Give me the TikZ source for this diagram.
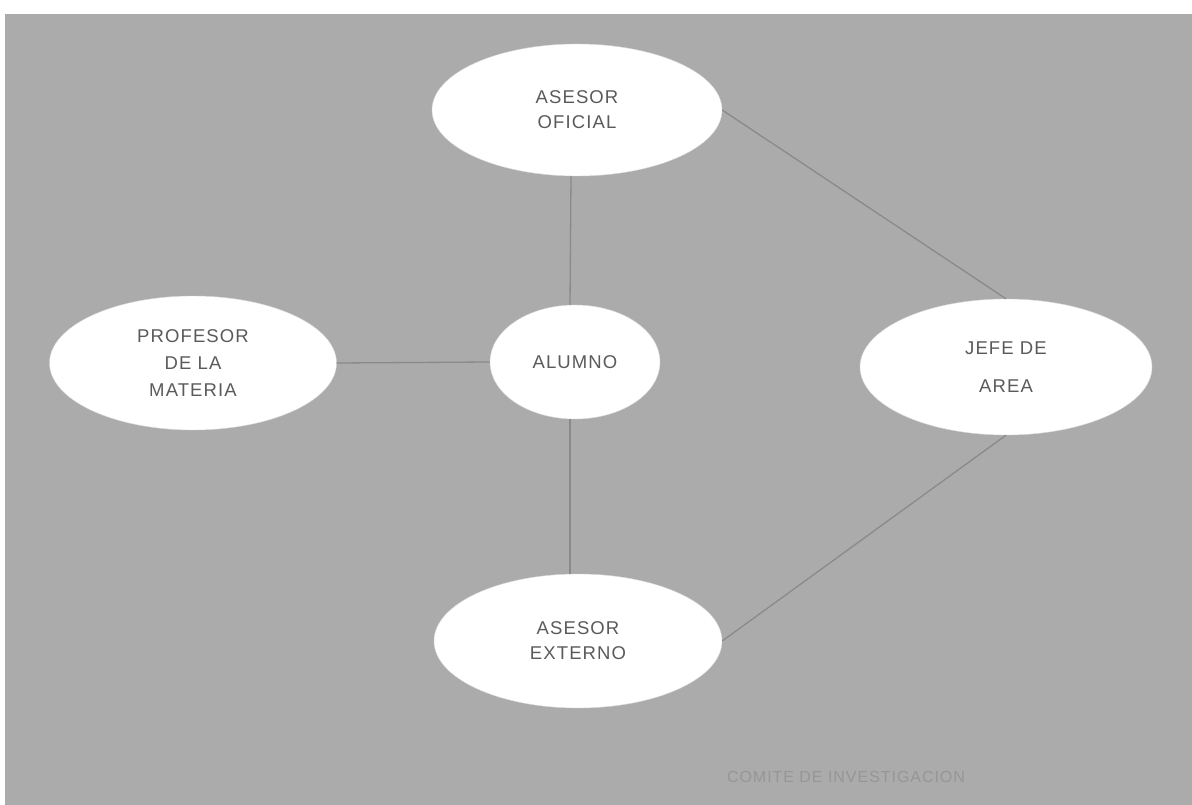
\documentclass[tikz,border=0pt]{standalone}
\usepackage{fontspec}
\setmainfont{Liberation Sans}[LetterSpace=6]
\usetikzlibrary{shapes.geometric}
\definecolor{bggray}{HTML}{ABABAB}
\definecolor{linegray}{HTML}{8A8A8A}
\definecolor{txtgray}{HTML}{5A5A5A}
\definecolor{fadetxt}{HTML}{969696}
\tikzset{
  bubble/.style={ellipse, fill=white, draw=white!85!black, line width=0.4pt, inner sep=0pt,
    text=txtgray, align=center, font=\fontsize{18.5}{25}\selectfont},
  link/.style={draw=linegray, line width=1.3pt}
}
\begin{document}
\begin{tikzpicture}[x=1pt,y=-1pt]
\useasboundingbox (0,0) rectangle (1192,805);
\fill[white] (0,0) rectangle (1192,805);
\fill[bggray] (5,14) rectangle (1192,805);
\node[bubble, minimum width=290pt, minimum height=132pt] (of) at (577,110) {ASESOR\\OFICIAL};
\node[bubble, minimum width=287pt, minimum height=134pt, font=\fontsize{18.5}{27}\selectfont] (pr) at (193,363) {PROFESOR\\DE LA\\MATERIA};
\node[bubble, minimum width=170pt, minimum height=114pt] (al) at (575,362) {ALUMNO};
\node[bubble, minimum width=292pt, minimum height=136pt, font=\fontsize{18.5}{38}\selectfont] (jf) at (1006,367) {JEFE DE\\AREA};
\node[bubble, minimum width=288pt, minimum height=134pt] (ex) at (578,641) {ASESOR\\EXTERNO};
\node[text=fadetxt, font=\fontsize{16}{18}\selectfont, inner sep=0pt] (ci) at (846,777) {COMITE DE INVESTIGACION};
\path[link] ([xshift=-6pt]of.south) -- ([xshift=-5pt]al.north);
\path[link] (pr.east) -- (al.west);
\path[link] ([xshift=-5pt]al.south) -- ([xshift=-8pt]ex.north);
\path[link] (of.east) -- (jf.north);
\path[link] (jf.south) -- (ex.east);
\end{tikzpicture}
\end{document}
